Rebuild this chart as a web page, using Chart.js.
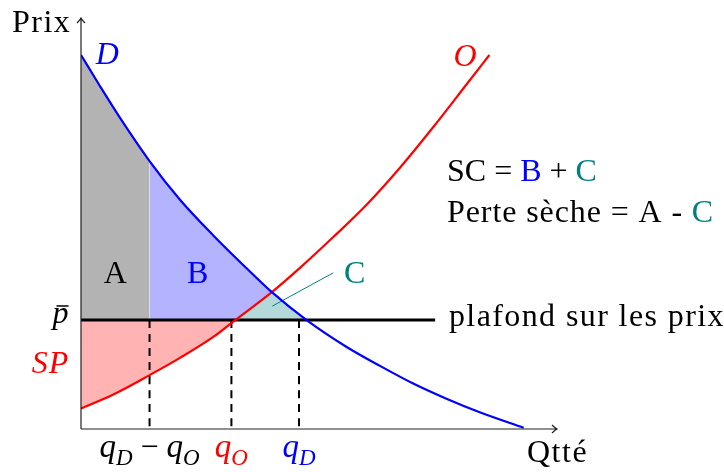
<!DOCTYPE html>
<html>
<head>
<meta charset="utf-8">
<script src="https://cdn.jsdelivr.net/npm/chart.js@4.4.1/dist/chart.umd.min.js"></script>
<style>
  html, body { margin: 0; padding: 0; background: #fff; overflow: hidden; }
  #chart { display: block; }
</style>
</head>
<body>
<canvas id="chart" width="724" height="472"></canvas>
<script>
// demand curve D (quantity, price)
const demandQty   = [0, 0.40, 0.82, 1.44, 2.08, 2.78, 3.48, 4.01, 4.74, 5.59, 6.29, 6.99, 7.69, 8.39, 9.30];
const demandPrice = [9.10, 8.34, 7.57, 6.52, 5.58, 4.71, 3.91, 3.33, 2.65, 1.99, 1.53, 1.10, 0.73, 0.40, 0.03];
// supply curve O
const supplyQty   = [0, 0.68, 1.44, 2.08, 2.78, 3.24, 4.01, 4.60, 5.30, 6.01, 6.71, 7.41, 8.11, 8.58];
const supplyPrice = [0.50, 0.84, 1.31, 1.73, 2.24, 2.65, 3.33, 3.92, 4.67, 5.47, 6.37, 7.36, 8.40, 9.10];
// price ceiling p-bar
const ceilingPrice = 2.65;
const ceilingQty = [0, 7.44];
// marked quantities: qD - qO, qO, qD
const markQty = [1.44, 3.16, 4.58];
const equilibriumQty = 4.01;

const BLUE = 'rgb(0,0,255)', RED = 'rgb(255,0,0)', TEAL = 'rgb(0,128,128)';
const serif = '"Liberation Serif", "Times New Roman", serif';
const F = (size, italic) => (italic ? 'italic ' : '') + size + 'px ' + serif;

const pts = (xs, ys) => xs.map((x, i) => ({ x: x, y: ys[i] }));
const demand = pts(demandQty, demandPrice);
const supply = pts(supplyQty, supplyPrice);
const between = (arr, a, b) => arr.filter(p => p.x >= a - 1e-6 && p.x <= b + 1e-6);

const supplyAtCeiling = supplyQty[supplyPrice.indexOf(ceilingPrice)];
const demandAtCeiling = demandQty[demandPrice.indexOf(ceilingPrice)];

function fillSet(data, color, order, smooth) {
  return {
    data: data, order: order, borderWidth: 0, pointRadius: 0,
    backgroundColor: color, fill: { value: ceilingPrice },
    cubicInterpolationMode: smooth ? 'monotone' : 'default', tension: 0
  };
}
function lineSet(data, color, width, order, dash) {
  return {
    data: data, order: order, borderColor: color, borderWidth: width,
    borderDash: dash || [], pointRadius: 0, fill: false,
    cubicInterpolationMode: 'monotone', borderCapStyle: 'butt'
  };
}

const datasets = [
  lineSet(demand, BLUE, 2.2, 1),
  lineSet(supply, RED, 2.2, 1),
  lineSet(ceilingQty.map(q => ({ x: q, y: ceilingPrice })), '#000', 3, 2),
  lineSet([{ x: 4.02, y: 2.99 }, { x: 5.30, y: 3.80 }], TEAL, 1, 2)
];
markQty.forEach(q => datasets.push(lineSet([{ x: q, y: ceilingPrice }, { x: q, y: 0 }], '#000', 2, 3, [8, 6])));
datasets.push(fillSet(between(demand, 0, markQty[0]), 'rgb(179,179,179)', 6, true));
datasets.push(fillSet(between(demand, markQty[0], equilibriumQty), 'rgb(179,179,255)', 6, true));
datasets.push(fillSet(between(supply, supplyAtCeiling, equilibriumQty)
  .concat(between(demand, equilibriumQty + 0.01, demandAtCeiling)), 'rgb(179,217,217)', 5, false));
datasets.push(fillSet(between(supply, 0, supplyAtCeiling), 'rgb(255,179,179)', 6, true));

const sub = 8;
const labels = [
  { x: -1.45, y: 9.66, align: 'left', ls: 1.5, runs: [['Prix', '#000', F(32)]] },
  { x: 0.55, y: 8.88, align: 'center', runs: [['D', BLUE, F(32, true)]] },
  { x: 8.07, y: 8.83, align: 'center', runs: [['O', RED, F(32, true)]] },
  { x: 7.69, y: 6.03, align: 'left', runs: [['SC = ', '#000', F(32)], ['B', BLUE, F(32)], [' + ', '#000', F(32)], ['C', TEAL, F(32)]] },
  { x: 7.69, y: 5.04, align: 'left', ls: 0.9, runs: [['Perte sèche = A - ', '#000', F(32)], ['C', TEAL, F(32)]] },
  { x: 7.73, y: 2.51, align: 'left', ls: 1.4, runs: [['plafond sur les prix', '#000', F(32)]] },
  { x: 9.37, y: -0.80, align: 'left', ls: 1.5, runs: [['Qtté', '#000', F(32)]] },
  { x: 0.72, y: 3.55, align: 'center', runs: [['A', '#000', F(32)]] },
  { x: 2.45, y: 3.55, align: 'center', runs: [['B', BLUE, F(32)]] },
  { x: 5.75, y: 3.55, align: 'center', runs: [['C', TEAL, F(32)]] },
  { x: -0.64, y: 1.36, align: 'center', ls: 1, runs: [['SP', RED, F(32, true)]] },
  { x: -0.43, y: 2.58, align: 'center', bar: true, runs: [['p', '#000', F(32, true)]] },
  { x: markQty[0], y: -0.68, align: 'center', runs: [['q', '#000', F(33, true)], ['D', '#000', F(23, true), sub], [' − ', '#000', F(32)], ['q', '#000', F(33, true)], ['O', '#000', F(23, true), sub]] },
  { x: markQty[1], y: -0.68, align: 'center', runs: [['q', RED, F(33, true)], ['O', RED, F(23, true), sub]] },
  { x: markQty[2], y: -0.68, align: 'center', runs: [['q', BLUE, F(33, true)], ['D', BLUE, F(23, true), sub]] }
];

const decorPlugin = {
  id: 'decor',
  afterDatasetsDraw(chart) {
    const ctx = chart.ctx, xs = chart.scales.x, ys = chart.scales.y;
    const x0 = xs.getPixelForValue(0), y0 = ys.getPixelForValue(0);
    const xEnd = xs.getPixelForValue(10), yEnd = ys.getPixelForValue(10);
    ctx.save();
    // axes with open arrow heads
    ctx.strokeStyle = '#222';
    ctx.lineWidth = 1.2;
    ctx.beginPath();
    ctx.moveTo(x0, y0); ctx.lineTo(xEnd, y0);
    ctx.moveTo(x0, y0); ctx.lineTo(x0, yEnd);
    ctx.moveTo(xEnd - 5, y0 - 4); ctx.quadraticCurveTo(xEnd - 2, y0 - 1, xEnd, y0); ctx.quadraticCurveTo(xEnd - 2, y0 + 1, xEnd - 5, y0 + 4);
    ctx.moveTo(x0 - 4, yEnd + 5); ctx.quadraticCurveTo(x0 - 1, yEnd + 2, x0, yEnd); ctx.quadraticCurveTo(x0 + 1, yEnd + 2, x0 + 4, yEnd + 5);
    ctx.stroke();
    // text labels
    ctx.textBaseline = 'alphabetic';
    labels.forEach(l => {
      const px = xs.getPixelForValue(l.x), py = ys.getPixelForValue(l.y);
      ctx.letterSpacing = (l.ls || 0) + 'px';
      let w = 0;
      l.runs.forEach(r => { ctx.font = r[2]; w += ctx.measureText(r[0]).width; });
      let cx = l.align === 'center' ? px - w / 2 : px;
      l.runs.forEach(r => {
        ctx.font = r[2];
        ctx.fillStyle = r[1];
        ctx.fillText(r[0], cx, py + (r[3] || 0));
        cx += ctx.measureText(r[0]).width;
      });
      if (l.bar) {
        ctx.strokeStyle = '#000';
        ctx.lineWidth = 1.5;
        ctx.beginPath();
        ctx.moveTo(px - 4, py - 17); ctx.lineTo(px + 8, py - 17);
        ctx.stroke();
      }
    });
    ctx.restore();
  }
};

new Chart(document.getElementById('chart'), {
  type: 'line',
  data: { datasets: datasets },
  options: {
    responsive: false,
    animation: false,
    layout: { padding: { left: 81, right: 167, top: 18, bottom: 43 } },
    scales: {
      x: { type: 'linear', min: 0, max: 10, display: false },
      y: { type: 'linear', min: 0, max: 10, display: false }
    },
    plugins: { legend: { display: false }, tooltip: { enabled: false } },
    elements: { line: { tension: 0 } }
  },
  plugins: [decorPlugin]
});
</script>
</body>
</html>
